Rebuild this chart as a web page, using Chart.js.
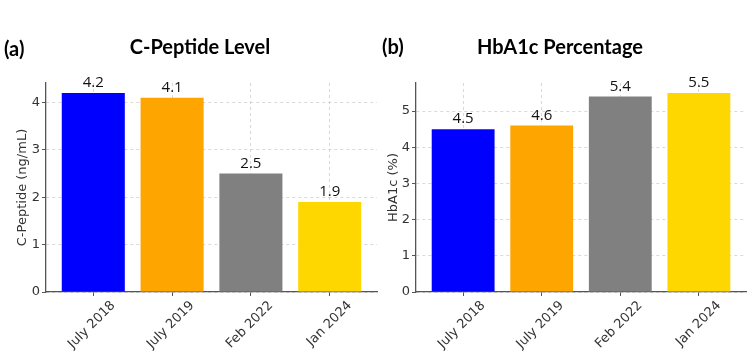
<!DOCTYPE html>
<html>
<head>
<meta charset="utf-8">
<script src="https://cdn.jsdelivr.net/npm/chart.js@4/dist/chart.umd.min.js"></script>
<style>
  html, body { margin: 0; padding: 0; background: #fff; }
  #wrap { position: relative; width: 750px; height: 362px; overflow: hidden; background: #fff; }
  canvas { position: absolute; top: 0; }
  .lbl { position: absolute; font-family: Lato, "Liberation Sans", sans-serif; font-weight: bold; color: #000; white-space: nowrap; line-height: 1; }
</style>
</head>
<body>
<div id="wrap">
  <canvas id="c1" width="378" height="362" style="left:0px"></canvas>
  <canvas id="c2" width="372" height="362" style="left:378px"></canvas>
  <div class="lbl" style="left:4px;top:38px;font-size:20px;">(a)</div>
  <div class="lbl" id="t1" style="left:200px;top:36px;font-size:20px;transform:translateX(-50%);">C-Peptide Level</div>
  <div class="lbl" style="left:382px;top:36px;font-size:20px;">(b)</div>
  <div class="lbl" id="t2" style="left:560px;top:36px;font-size:20px;transform:translateX(-50%);">HbA1c Percentage</div>
</div>
<script>
// ---- data ----
const categories = ['July 2018', 'July 2019', 'Feb 2022', 'Jan 2024'];
const cPeptide = [4.2, 4.1, 2.5, 1.9];
const hba1c = [4.5, 4.6, 5.4, 5.5];
const cPeptideTicks = [0, 1, 2, 3, 4];
const hba1cTicks = [0, 1, 2, 3, 4, 5];
const barColors = ['#0000FF', '#FFA500', '#808080', '#FFD700'];

Chart.defaults.font.family = '"DejaVu Sans", sans-serif';
Chart.defaults.font.size = 12;
Chart.defaults.color = '#333';

const valueLabels = {
  id: 'valueLabels',
  afterDraw(chart) {
    const ctx = chart.ctx;
    const meta = chart.getDatasetMeta(0);
    const vals = chart.data.datasets[0].data;
    ctx.save();
    ctx.font = '15px "Open Sans", sans-serif';
    ctx.fillStyle = '#111';
    ctx.textAlign = 'center';
    ctx.textBaseline = 'alphabetic';
    meta.data.forEach((bar, i) => {
      ctx.fillText(vals[i].y.toFixed(1), bar.x, bar.y - 6);
    });
    ctx.restore();
  }
};

function makeChart(id, values, yTicks, yTitle, yWidth, titlePad, padRight) {
  const gridColor = 'rgba(180,180,180,0.5)';
  return new Chart(document.getElementById(id), {
    type: 'bar',
    data: {
      datasets: [{
        data: values.map((v, i) => ({ x: i, y: v })),
        backgroundColor: barColors,
        borderWidth: 0,
        barPercentage: 1.0,
        categoryPercentage: 0.8
      }]
    },
    options: {
      responsive: false,
      animation: false,
      devicePixelRatio: 1,
      layout: { padding: { top: 83, right: padRight, left: 0, bottom: 0 } },
      plugins: { legend: { display: false }, tooltip: { enabled: false }, title: { display: false } },
      scales: {
        x: {
          type: 'linear',
          offset: false,
          min: -0.6,
          max: categories.length - 0.4,
          z: 1,
          afterBuildTicks: s => { s.ticks = categories.map((_, i) => ({ value: i })); },
          afterFit: s => { s.height = 70; },
          ticks: {
            autoSkip: false,
            maxRotation: 45,
            minRotation: 45,
            labelOffset: 20,
            padding: 2,
            color: '#333',
            font: { size: 13 },
            callback: v => categories[v]
          },
          grid: { offset: false, color: gridColor, lineWidth: 1, tickLength: 4, tickColor: '#555', drawTicks: true },
          border: { display: true, color: '#555', width: 1.3, dash: [3, 3] }
        },
        y: {
          type: 'linear',
          min: 0,
          max: Math.max(...values) * 1.05,
          z: 1,
          afterBuildTicks: s => { s.ticks = yTicks.map(v => ({ value: v })); },
          afterFit: s => { s.width = yWidth; },
          ticks: { padding: 2, color: '#333', font: { size: 13 } },
          grid: { color: gridColor, lineWidth: 1, tickLength: 4, tickColor: '#555' },
          border: { display: true, color: '#555', width: 1.3, dash: [3, 3] },
          title: { display: true, text: yTitle, color: '#333', font: { size: 13 }, padding: { top: titlePad, bottom: 0 } }
        }
      }
    },
    plugins: [valueLabels]
  });
}

makeChart('c1', cPeptide, cPeptideTicks, 'C-Peptide (ng/mL)', 46, 15, 1);
makeChart('c2', hba1c, hba1cTicks, 'HbA1c (%)', 38, 8, 4);
</script>
</body>
</html>
